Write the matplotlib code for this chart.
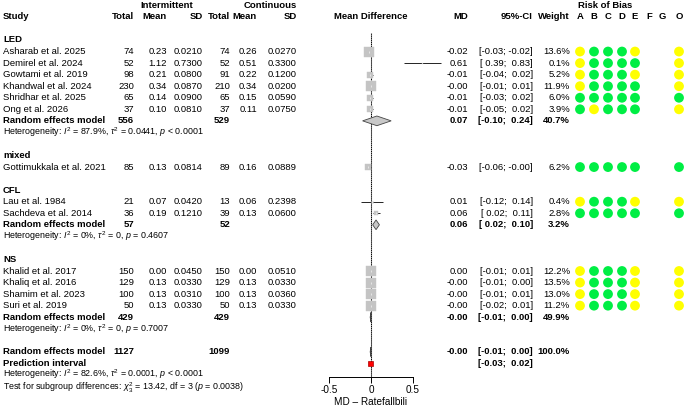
import numpy as np
import matplotlib
matplotlib.use('Agg')
import matplotlib.pyplot as plt
from matplotlib.patches import Polygon, Rectangle

plt.rcParams['font.family'] = ['Liberation Sans', 'DejaVu Sans']
plt.rcParams['mathtext.fontset'] = 'custom'
plt.rcParams['mathtext.rm'] = 'Liberation Sans'
plt.rcParams['mathtext.it'] = 'Liberation Sans:italic'
plt.rcParams['mathtext.bf'] = 'Liberation Sans:bold'

# --- study level data ---
study = ['Asharab et al. 2025', 'Demirel et al. 2024', 'Gowtami et al. 2019',
         'Khandwal et al. 2024', 'Shridhar et al. 2025', 'Ong et al. 2026',
         'Gottimukkala et al. 2021', 'Lau et al. 1984', 'Sachdeva et al. 2014',
         'Khalid et al. 2017', 'Khaliq et al. 2016', 'Shamim et al. 2023', 'Suri et al. 2019']
group = ['LED'] * 6 + ['mixed'] + ['CFL'] * 2 + ['NS'] * 4
n_int = [74, 52, 98, 230, 65, 37, 85, 21, 36, 150, 129, 100, 50]
mean_int = [0.23, 1.12, 0.21, 0.34, 0.14, 0.10, 0.13, 0.07, 0.19, 0.00, 0.13, 0.13, 0.13]
sd_int = [0.0210, 0.7300, 0.0800, 0.0870, 0.0900, 0.0810, 0.0814, 0.0420, 0.1210,
          0.0450, 0.0330, 0.0310, 0.0330]
n_con = [74, 52, 91, 210, 65, 37, 89, 13, 39, 150, 129, 100, 50]
mean_con = [0.26, 0.51, 0.22, 0.34, 0.15, 0.11, 0.16, 0.06, 0.13, 0.00, 0.13, 0.13, 0.13]
sd_con = [0.0270, 0.3300, 0.1200, 0.0200, 0.0590, 0.0750, 0.0889, 0.2398, 0.0600,
          0.0510, 0.0330, 0.0360, 0.0330]
md = [-0.02, 0.61, -0.01, -0.00, -0.01, -0.01, -0.03, 0.01, 0.06, 0.00, -0.00, -0.00, -0.00]
ci_lo = [-0.03, 0.39, -0.04, -0.01, -0.03, -0.05, -0.06, -0.12, 0.02, -0.01, -0.01, -0.01, -0.02]
ci_hi = [-0.02, 0.83, 0.02, 0.01, 0.02, 0.02, -0.00, 0.14, 0.11, 0.01, 0.00, 0.01, 0.01]
weight = [13.6, 0.1, 5.2, 11.9, 6.0, 3.9, 6.2, 0.4, 2.8, 12.2, 13.5, 13.0, 11.2]

# risk of bias, Y = some concerns (yellow), G = low (green)
rob_a = ['Y', 'Y', 'Y', 'Y', 'G', 'G', 'G', 'Y', 'G', 'Y', 'Y', 'Y', 'Y']
rob_b = ['G', 'G', 'G', 'G', 'G', 'Y', 'G', 'G', 'G', 'G', 'G', 'G', 'G']
rob_c = ['G'] * 13
rob_d = ['G'] * 13
rob_e = ['Y', 'G', 'Y', 'G', 'G', 'G', 'G', 'Y', 'G', 'Y', 'Y', 'Y', 'Y']
rob_o = ['Y', 'Y', 'Y', 'Y', 'G', 'Y', 'G', 'Y', 'G', 'Y', 'Y', 'Y', 'Y']

# --- subgroup summaries ---
groups = ['LED', 'mixed', 'CFL', 'NS']
sub_n_int = {'LED': 556, 'CFL': 57, 'NS': 429}
sub_n_con = {'LED': 529, 'CFL': 52, 'NS': 429}
sub_md = {'LED': 0.07, 'CFL': 0.06, 'NS': -0.00}
sub_lo = {'LED': -0.10, 'CFL': 0.02, 'NS': -0.01}
sub_hi = {'LED': 0.24, 'CFL': 0.10, 'NS': 0.00}
sub_w = {'LED': 40.7, 'CFL': 3.2, 'NS': 49.9}
sub_het = {'LED': r'Heterogeneity: $I^2$ = 87.9%, $\tau^2$ = 0.0441, $p$ < 0.0001',
           'CFL': r'Heterogeneity: $I^2$ = 0%, $\tau^2$ = 0, $p$ = 0.4607',
           'NS': r'Heterogeneity: $I^2$ = 0%, $\tau^2$ = 0, $p$ = 0.7007'}

# --- overall ---
tot_n_int, tot_n_con = 1127, 1099
tot_md, tot_lo, tot_hi, tot_w = -0.00, -0.01, 0.00, 100.0
pred_lo, pred_hi = -0.03, 0.02
tot_het = r'Heterogeneity: $I^2$ = 82.6%, $\tau^2$ = 0.0001, $p$ < 0.0001'
sub_test = r'Test for subgroup differences: $\chi^2_3$ = 13.42, df = 3 ($p$ = 0.0038)'

# layout helpers (pixel geometry of the 685x411 canvas)
W, H = 685, 411
ROW0, DY = 40.0, 11.55
def prow(px):
    return (px - ROW0) / DY

FS = 6.8
FS_S = 6.4
YEL, GRN = '#ffff00', '#00ee44'
rob_x = [580, 594, 608, 622, 635, 679]
rob_lab = ['A', 'B', 'C', 'D', 'E', 'F', 'G', 'O']
rob_lab_x = [580, 594, 608, 622, 635, 649, 662, 679]

fig = plt.figure(figsize=(W / 100, H / 100), dpi=100)
tx = fig.add_axes([0, 0, 1, 1])
tx.set_xlim(0, W)
tx.set_ylim(prow(H), prow(0))
tx.axis('off')

fa = fig.add_axes([329 / W, (H - 377) / H, 84 / W, (377 - 33) / H])
fa.set_xlim(-0.5, 0.5)
fa.set_ylim(prow(377), prow(33))
fa.patch.set_alpha(0)


def ci_text(lo, hi):
    return f'[{lo:5.2f}; {hi:5.2f}]'


# headers
hb = dict(fontsize=FS, fontweight='bold', va='center')
tx.text(167, -3, 'Intermittent', ha='center', **hb)
tx.text(270, -3, 'Continuous', ha='center', **hb)
tx.text(605, -3, 'Risk of Bias', ha='center', **hb)
tx.text(3, -2, 'Study', ha='left', **hb)
for x, s in [(134, 'Total'), (167, 'Mean'), (203, 'SD'), (230, 'Total'),
             (257, 'Mean'), (297, 'SD'), (468, 'MD'), (533, '95%-CI'), (570, 'Weight')]:
    tx.text(x, -2, s, ha='right', **hb)
tx.text(371, -2, 'Mean Difference', ha='center', **hb)
for x, s in zip(rob_lab_x, rob_lab):
    tx.text(x, -2, s, ha='center', **hb)

row = 0
for g in groups:
    idx = [i for i, gg in enumerate(group) if gg == g]
    tx.text(3, row, g, fontsize=FS, fontweight='bold', va='center')
    row += 1
    for i in idx:
        tx.text(3, row, study[i], fontsize=FS, va='center')
        cols = [(134, f'{n_int[i]}'), (167, f'{mean_int[i]:.2f}'), (203, f'{sd_int[i]:.4f}'),
                (230, f'{n_con[i]}'), (257, f'{mean_con[i]:.2f}'), (297, f'{sd_con[i]:.4f}'),
                (468, f'{md[i]:.2f}'), (533, ci_text(ci_lo[i], ci_hi[i])),
                (570, f'{weight[i]:.1f}%')]
        for x, s in cols:
            tx.text(x, row, s, fontsize=FS, va='center', ha='right')
        rob = [rob_a[i], rob_b[i], rob_c[i], rob_d[i], rob_e[i], rob_o[i]]
        tx.scatter(rob_x, [row] * 6, s=50, c=[YEL if r == 'Y' else GRN for r in rob],
                   edgecolors='none', zorder=3)
        fa.hlines(row, ci_lo[i], ci_hi[i], color='black', lw=0.6, zorder=2, clip_on=False)
        fa.plot(md[i], row, marker='s', ms=1.95 * np.sqrt(weight[i]), color='#c4c4c4',
                mec='#c4c4c4', mew=0.3, zorder=3, clip_on=False)
        fa.plot(md[i], row, marker='|', ms=1.5, color='white', mew=0.4, zorder=4)
        row += 1
    if len(idx) > 1:
        tx.text(3, row, 'Random effects model', fontsize=FS, fontweight='bold', va='center')
        for x, s in [(134, f'{sub_n_int[g]}'), (230, f'{sub_n_con[g]}'),
                     (468, f'{sub_md[g]:.2f}'), (533, ci_text(sub_lo[g], sub_hi[g])),
                     (570, f'{sub_w[g]:.1f}%')]:
            tx.text(x, row, s, fontsize=FS, fontweight='bold', va='center', ha='right')
        fa.add_patch(Polygon([(sub_lo[g], row), (sub_md[g], row - 0.42), (sub_hi[g], row),
                              (sub_md[g], row + 0.42)], closed=True, fc='#c8c8c8',
                             ec='#444444', lw=0.6, zorder=3))
        row += 1
        tx.text(3, row, sub_het[g], fontsize=FS_S, va='center')
        row += 1
    row += 1

# overall
tx.text(3, row, 'Random effects model', fontsize=FS, fontweight='bold', va='center')
for x, s in [(134, f'{tot_n_int}'), (230, f'{tot_n_con}'), (468, f'{tot_md:.2f}'),
             (533, ci_text(tot_lo, tot_hi)), (570, f'{tot_w:.1f}%')]:
    tx.text(x, row, s, fontsize=FS, fontweight='bold', va='center', ha='right')
fa.add_patch(Polygon([(tot_lo, row), (tot_md, row - 0.42), (tot_hi, row),
                      (tot_md, row + 0.42)], closed=True, fc='#c8c8c8',
                     ec='#444444', lw=0.6, zorder=3))
row += 1
tx.text(3, row, 'Prediction interval', fontsize=FS, fontweight='bold', va='center')
tx.text(533, row, ci_text(pred_lo, pred_hi), fontsize=FS, fontweight='bold',
        va='center', ha='right')
fa.add_patch(Rectangle((pred_lo, row - 0.22), pred_hi - pred_lo, 0.44, fc='red',
                       ec='#aa0000', lw=0.5, zorder=3))
row += 1
tx.text(3, row - 0.05, tot_het, fontsize=FS_S, va='center')
row += 1
tx.text(3, row + 0.1, sub_test, fontsize=FS_S, va='center')

# reference lines and axis
fa.axvline(0, color='#999999', lw=0.8, zorder=1)
fa.axvline(tot_md, color='black', lw=0.7, ls=(0, (1, 1)), zorder=1)
for s in ['top', 'right', 'left']:
    fa.spines[s].set_visible(False)
fa.spines['bottom'].set_linewidth(0.7)
fa.set_yticks([])
fa.set_xticks([-0.5, 0, 0.5])
fa.set_xticklabels(['-0.5', '0', '0.5'])
fa.tick_params(axis='x', direction='out', length=4, width=0.7, labelsize=FS + 0.4, pad=2)
fa.set_xlabel('MD – Ratefallbili', fontsize=FS + 0.4, labelpad=1)

fig.savefig('out.png', dpi=100)
